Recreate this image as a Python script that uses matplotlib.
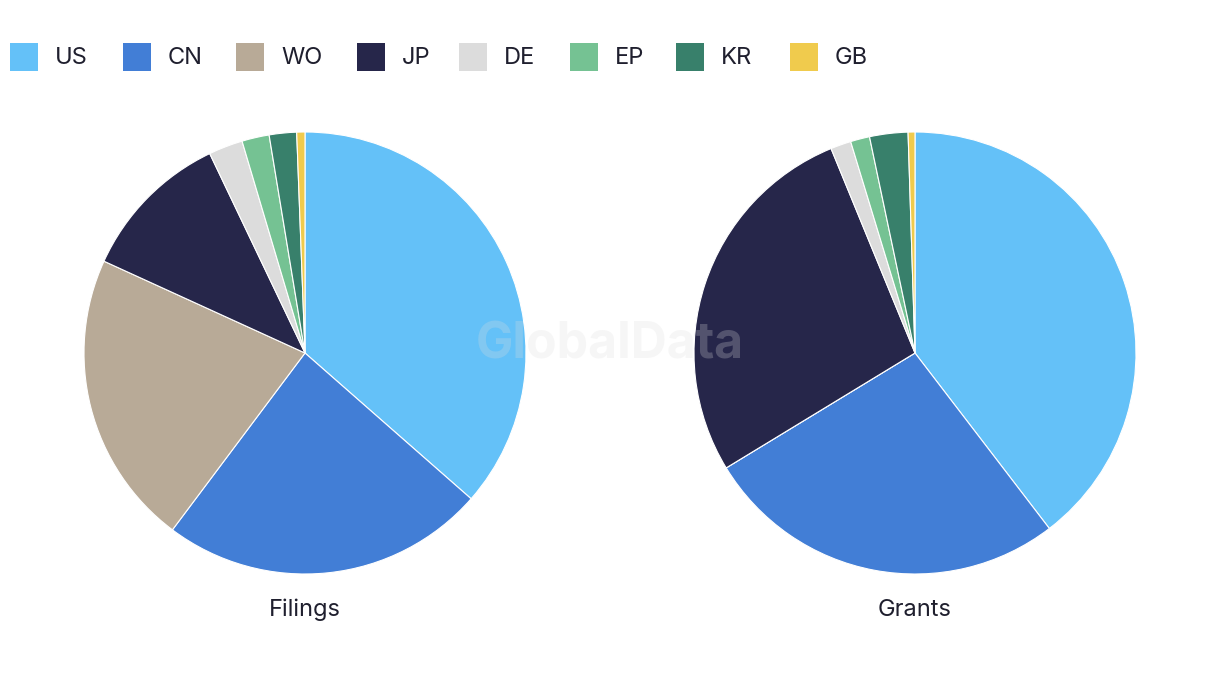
import matplotlib.pyplot as plt
from matplotlib.patches import Rectangle

codes = ['US', 'CN', 'WO', 'JP', 'DE', 'EP', 'KR', 'GB']
colors = ['#64c1f8', '#427ed6', '#b8aa97', '#26264a', '#dcdcdc', '#75c293', '#38806b', '#f0cb4d']
filings = [36.5, 23.8, 21.6, 11.1, 2.5, 2.0, 2.0, 0.6]
grants = [39.6, 26.7, 0.0, 27.5, 1.5, 1.4, 2.8, 0.5]
panels = ['Filings', 'Grants']

plt.rcParams['font.family'] = ['Inter', 'DejaVu Sans']
W, H = 1220, 686
fig = plt.figure(figsize=(W / 100, H / 100), dpi=100)

centers = [305, 915]
r = 221
for cx, vals, name in zip(centers, [filings, grants], panels):
    ax = fig.add_axes([(cx - r) / W, (H - 353 - r) / H, 2 * r / W, 2 * r / H])
    ax.pie(vals, colors=colors, startangle=90, counterclock=False,
           wedgeprops=dict(edgecolor='white', linewidth=0.8))
    ax.set_xlim(-1, 1)
    ax.set_ylim(-1, 1)
    ax.set_aspect('equal')
    ax.axis('off')
    fig.text(cx / W, 1 - 610 / H, name, ha='center', va='center',
             fontsize=17, color='#1f1f2e')

# legend
leg_x = [10, 123, 236, 357, 459, 570, 676, 790]
for x, c, code in zip(leg_x, colors, codes):
    fig.patches.append(Rectangle((x / W, 1 - 71 / H), 28 / W, 28 / H,
                                 transform=fig.transFigure, facecolor=c,
                                 edgecolor='none'))
    fig.text((x + 45) / W, 1 - 58 / H, code, ha='left', va='center',
             fontsize=17, color='#1f1f2e')

# watermark
fig.text(610 / W, 1 - 345 / H, 'GlobalData', ha='center', va='center',
         fontsize=36, fontweight='bold', color='#dddddd', alpha=0.25, zorder=10)

fig.savefig('out.png', dpi=100, facecolor='white')
